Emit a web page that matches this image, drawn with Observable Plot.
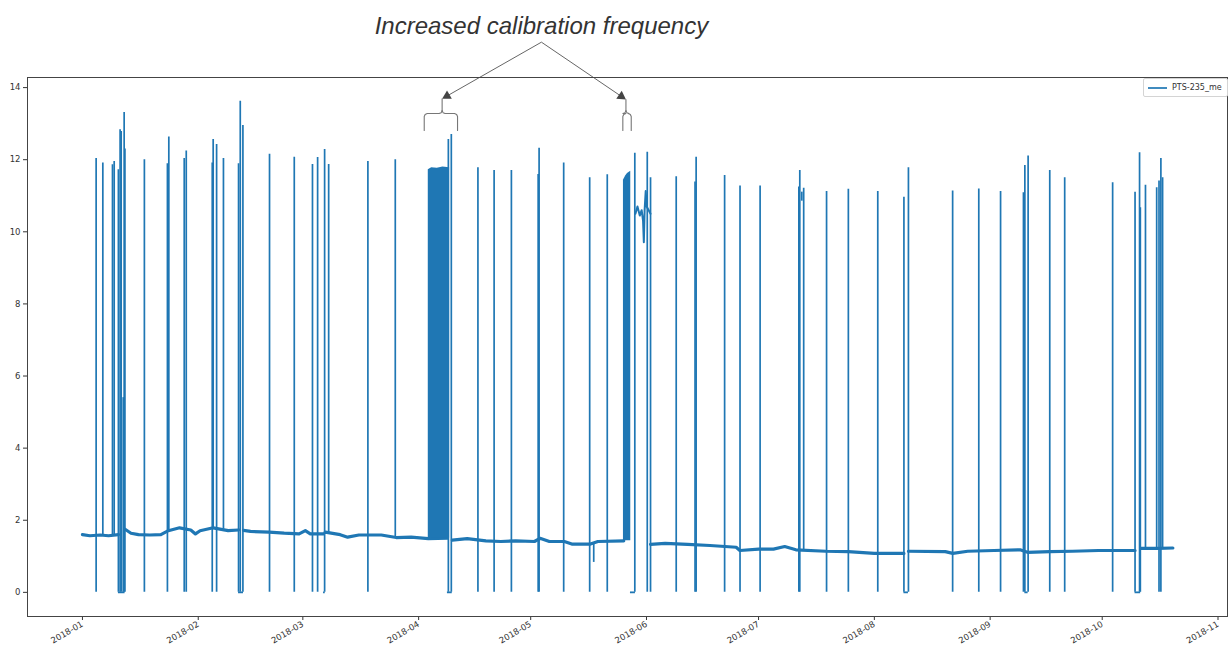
<!DOCTYPE html>
<html>
<head>
<meta charset="utf-8">
<script src="https://cdn.jsdelivr.net/npm/d3@7"></script>
<script src="https://cdn.jsdelivr.net/npm/@observablehq/plot@0.6"></script>
<style>
  body { margin: 0; background: #fff; }
  #chart { position: relative; width: 1229px; height: 646px; font-family: "DejaVu Sans", sans-serif; }
  #chart svg { display: block; }
  .legend {
    position: absolute; left: 1143px; top: 78px; height: 17px; padding: 0 5px 0 4px;
    border: 1px solid #d4d4d4; border-radius: 2px; background: #fff;
    display: flex; align-items: center; gap: 5px; font-size: 8px; color: #333;
  }
  .legend .swatch { width: 19px; height: 0; border-top: 2px solid #1f77b4; opacity: 0.85; }
</style>
</head>
<body>
<div id="chart"></div>
<script>
// Sensor PTS-235_me, 2018: baseline readings, calibration spikes, zero outages.
const seriesName = "PTS-235_me";

// x tick labels (month starts) and y ticks
const monthTicks = ["2018-01","2018-02","2018-03","2018-04","2018-05","2018-06",
                    "2018-07","2018-08","2018-09","2018-10","2018-11"];
const valueTicks = [0, 2, 4, 6, 8, 10, 12, 14];

// Slow-moving baseline level; null marks a break in the record
const baseline = [
  ["2018-01-01 00:00",1.60],["2018-01-03 00:00",1.57],["2018-01-05 18:00",1.59],["2018-01-08 00:00",1.57],
  ["2018-01-10 15:00",1.60],["2018-01-11 00:00",null],["2018-01-12 10:00",1.75],["2018-01-14 00:00",1.64],
  ["2018-01-16 00:00",1.60],["2018-01-19 00:00",1.59],["2018-01-22 00:00",1.60],["2018-01-24 00:00",1.71],
  ["2018-01-27 00:00",1.79],["2018-01-30 00:00",1.73],["2018-01-31 06:00",1.62],["2018-02-01 12:00",1.71],
  ["2018-02-05 00:00",1.79],["2018-02-09 00:00",1.71],["2018-02-11 19:00",1.73],["2018-02-12 00:00",null],
  ["2018-02-13 03:00",1.72],["2018-02-15 00:00",1.69],["2018-02-20 00:00",1.67],["2018-02-24 00:00",1.64],
  ["2018-02-28 00:00",1.62],["2018-03-01 16:00",1.71],["2018-03-03 00:00",1.62],["2018-03-06 13:00",1.62],
  ["2018-03-06 18:00",null],["2018-03-07 00:00",1.67],["2018-03-11 00:00",1.60],["2018-03-13 00:00",1.53],
  ["2018-03-16 00:00",1.59],["2018-03-22 00:00",1.59],["2018-03-26 00:00",1.52],["2018-03-30 00:00",1.53],
  ["2018-04-03 14:00",1.49],["2018-04-08 17:00",1.50],["2018-04-09 00:00",null],["2018-04-10 00:00",1.45],
  ["2018-04-14 00:00",1.49],["2018-04-19 00:00",1.43],["2018-04-23 00:00",1.41],["2018-04-27 00:00",1.43],
  ["2018-05-02 00:00",1.41],["2018-05-03 12:00",1.50],["2018-05-06 00:00",1.41],["2018-05-10 00:00",1.41],
  ["2018-05-12 00:00",1.34],["2018-05-17 00:00",1.34],["2018-05-19 00:00",1.41],["2018-05-25 22:00",1.43],
  ["2018-05-26 00:00",null],["2018-06-02 02:00",1.33],["2018-06-06 00:00",1.36],["2018-06-12 00:00",1.33],
  ["2018-06-18 00:00",1.30],["2018-06-25 00:00",1.25],["2018-06-26 00:00",1.16],["2018-07-01 00:00",1.20],
  ["2018-07-05 00:00",1.20],["2018-07-08 00:00",1.27],["2018-07-11 00:00",1.18],["2018-07-19 00:00",1.14],
  ["2018-07-25 00:00",1.13],["2018-08-01 00:00",1.08],["2018-08-08 22:00",1.08],["2018-08-09 00:00",null],
  ["2018-08-10 03:00",1.14],["2018-08-20 00:00",1.13],["2018-08-22 00:00",1.08],["2018-08-26 00:00",1.14],
  ["2018-09-02 00:00",1.16],["2018-09-09 00:00",1.18],["2018-09-11 00:00",1.11],["2018-09-17 00:00",1.13],
  ["2018-09-23 00:00",1.14],["2018-09-30 00:00",1.16],["2018-10-09 19:00",1.16],["2018-10-10 00:00",null],
  ["2018-10-11 07:00",1.22],["2018-10-16 00:00",1.22],["2018-10-19 22:00",1.23]
];

// Calibration spikes: time, peak reading, lowest reading of the excursion
const spikes = [
  ["2018-01-04 16:00",12.03,0],["2018-01-06 11:00",11.91,1.59],["2018-01-09 01:00",11.86,1.60],
  ["2018-01-09 12:00",11.95,1.60],["2018-01-10 15:00",11.72,0],["2018-01-11 02:00",12.83,0],
  ["2018-01-11 09:00",12.78,0],["2018-01-11 22:00",5.40,0],["2018-01-12 04:00",13.31,0],
  ["2018-01-12 09:00",12.30,0],["2018-01-17 14:00",12.00,0],["2018-01-23 18:00",11.89,0],
  ["2018-01-24 03:00",12.63,1.70],["2018-01-28 06:00",12.03,0],["2018-01-28 19:00",12.24,0],
  ["2018-02-04 18:00",11.91,0],["2018-02-05 00:00",12.56,1.75],["2018-02-05 22:00",12.42,0],
  ["2018-02-07 18:00",12.03,1.75],["2018-02-11 19:00",11.89,0],["2018-02-12 06:00",13.62,0],
  ["2018-02-12 23:00",12.95,0],["2018-02-20 02:00",12.15,0],["2018-02-26 17:00",12.07,0],
  ["2018-03-03 14:00",11.87,0],["2018-03-04 23:00",12.06,0],["2018-03-06 20:00",12.28,0],
  ["2018-03-07 22:00",11.87,1.65],["2018-03-18 10:00",11.95,0],["2018-03-25 18:00",12.00,1.55],
  ["2018-04-08 23:00",12.56,0],["2018-04-09 18:00",12.70,0],["2018-04-16 21:00",11.78,0],
  ["2018-04-21 05:00",11.70,0],["2018-04-25 20:00",11.70,0],["2018-05-03 00:00",11.59,0],
  ["2018-05-03 06:00",12.32,0],["2018-05-09 20:00",11.91,0],["2018-05-16 19:00",11.50,0],
  ["2018-05-17 21:00",1.34,0.83],["2018-05-21 12:00",11.58,0],["2018-05-28 21:00",12.18,0],
  ["2018-06-01 05:00",12.21,0],["2018-06-02 02:00",11.50,0],["2018-06-08 23:00",11.53,0],
  ["2018-06-14 00:00",11.38,0],["2018-06-14 07:00",12.07,0],["2018-06-21 22:00",11.56,0],
  ["2018-06-26 01:00",11.27,0],["2018-07-01 10:00",11.27,0],["2018-07-11 19:00",11.24,0],
  ["2018-07-12 01:00",11.70,0],["2018-07-12 14:00",11.10,10.85],["2018-07-13 02:00",11.21,1.18],
  ["2018-07-19 05:00",11.12,0],["2018-07-25 01:00",11.18,0],["2018-08-01 22:00",11.12,0],
  ["2018-08-08 22:00",10.96,0],["2018-08-10 03:00",11.78,0],["2018-08-21 23:00",11.13,0],
  ["2018-08-28 23:00",11.19,0],["2018-09-03 19:00",11.12,0],["2018-09-09 22:00",11.08,0],
  ["2018-09-10 07:00",11.84,0],["2018-09-11 04:00",12.10,0],["2018-09-16 23:00",11.70,0],
  ["2018-09-20 23:00",11.50,0],["2018-10-03 19:00",11.36,0],["2018-10-09 19:00",11.10,0],
  ["2018-10-11 00:00",12.19,0],["2018-10-11 05:00",10.67,0],["2018-10-12 14:00",11.29,1.22],
  ["2018-10-15 14:00",11.22,1.22],["2018-10-16 05:00",11.41,0],["2018-10-16 17:00",12.03,0],
  ["2018-10-17 04:00",11.50,1.22]
];

// Periods where the sensor sat at zero: start, end, level
const outages = [
  ["2018-01-10 15:00","2018-01-12 10:00",0],["2018-02-11 19:00","2018-02-13 03:00",0],
  ["2018-03-06 13:00","2018-03-07 00:00",0],["2018-04-08 17:00","2018-04-10 00:00",0],
  ["2018-05-27 17:00","2018-05-29 01:00",0],["2018-08-08 22:00","2018-08-10 03:00",0],
  ["2018-09-10 07:00","2018-09-11 04:00",0],["2018-10-09 19:00","2018-10-11 07:00",0]
];

// Back-to-back calibrations, drawn as filled bands: block, time, low, high
const calibrationBlocks = [
  ["A","2018-04-03 14:00",1.49,11.72],["A","2018-04-04 12:00",1.50,11.78],["A","2018-04-06 00:00",1.50,11.76],
  ["A","2018-04-07 12:00",1.50,11.80],["A","2018-04-09 07:00",1.50,11.78],
  ["B","2018-05-25 20:00",1.43,11.43],["B","2018-05-26 10:00",1.43,11.55],["B","2018-05-26 22:00",1.43,11.62],
  ["B","2018-05-27 19:00",1.43,11.68]
];

// Reading held near 10.5 after the second block
const holdReadings = [
  ["2018-05-29 01:00",10.50],["2018-05-29 14:00",10.70],["2018-05-30 05:00",10.45],["2018-05-30 17:00",10.60],
  ["2018-05-31 02:00",10.30],["2018-05-31 07:00",9.71],["2018-05-31 12:00",10.60],["2018-05-31 19:00",11.13],
  ["2018-06-01 01:00",10.70],["2018-06-01 14:00",10.60],["2018-06-02 02:00",10.50]
];

// Annotation: caption anchor, arrow tips, bracket spans (left, stem, right)
const noteText = ["2018-05-03 21:00", 15.50, "Increased calibration frequency"];
const noteFrom = ["2018-05-03 21:00", 15.26];
const noteTips = [["2018-04-07 07:00", 13.69], ["2018-05-26 12:00", 13.67]];
const noteBrackets = [
  ["2018-04-02 12:00","2018-04-07 07:00","2018-04-11 10:00"],
  ["2018-05-25 16:00","2018-05-26 12:00","2018-05-27 22:00"]
];
const bracketLevels = {bottom: 12.81, shoulder: 13.28};

// ---- layout ----
const W = 1229, H = 646, mL = 27, mR = 2, mT = 77, mB = 30;
const blue = "#1f77b4";
const parse = d3.utcParse("%Y-%m-%d %H:%M");
const xDomain = [parse("2017-12-17 07:00"), parse("2018-11-03 13:00")];
const yDomain = [-0.67, 14.28];

const xs = Plot.scale({x: {type: "utc", domain: xDomain, range: [mL, W - mR]}});
const ys = Plot.scale({y: {type: "linear", domain: yDomain, range: [H - mB, mT]}});

const base = baseline.map(([t, v]) => ({t: parse(t), v}));
const spk = spikes.map(([t, hi, lo]) => ({t: parse(t), hi, lo}));
const outs = outages.map(([a, b, v]) => ({a: parse(a), b: parse(b), v}));
const blocks = calibrationBlocks.map(([k, t, lo, hi]) => ({k, t: parse(t), lo, hi}));
const hold = holdReadings.map(([t, v]) => ({t: parse(t), v}));

// arrowheads: filled triangles whose apex sits on each tip
const triR = 3.6;
const apex = 2 * Math.sqrt((triR * triR * Math.PI) / (3 * Math.sqrt(3)));
const fx = xs.apply(parse(noteFrom[0])), fy = ys.apply(noteFrom[1]);
const heads = noteTips.map(([t, v]) => {
  const tx = xs.apply(parse(t)), ty = ys.apply(v);
  const dx = tx - fx, dy = ty - fy, len = Math.hypot(dx, dy);
  const cx = tx - apex * dx / len, cy = ty - apex * dy / len;
  return {x: xs.invert(cx), y: ys.invert(cy), rotate: Math.atan2(dy, dx) * 180 / Math.PI + 90};
});
const links = heads.map(h => ({x1: parse(noteFrom[0]), y1: noteFrom[1], x2: h.x, y2: h.y}));

// curly bracket outlines under each arrow
const bracketPts = [];
noteBrackets.forEach(([l, s, r], i) => {
  const L = xs.apply(parse(l)), C = xs.apply(parse(s)), R = xs.apply(parse(r));
  const yb = ys.apply(bracketLevels.bottom), yh = ys.apply(bracketLevels.shoulder);
  const yt = ys.apply(noteTips[i][1]);
  const halves = [
    [[L, yb], [L, yh + 3], [L + 0.9, yh + 0.9], [L + 3, yh], [C - 3, yh], [C - 0.9, yh - 0.9], [C, yh - 3], [C, yt]],
    [[R, yb], [R, yh + 3], [R - 0.9, yh + 0.9], [R - 3, yh], [C + 3, yh], [C + 0.9, yh - 0.9], [C, yh - 3]]
  ];
  halves.forEach((pts, j) => pts.forEach(([px, py]) =>
    bracketPts.push({z: `${i}-${j}`, x: xs.invert(px), y: ys.invert(py)})));
});

const plot = Plot.plot({
  width: W, height: H,
  marginLeft: mL, marginRight: mR, marginTop: mT, marginBottom: mB,
  style: {fontFamily: "DejaVu Sans, sans-serif", fontSize: "8.5px", color: "#333", background: "#fff", overflow: "visible"},
  x: {type: "utc", domain: xDomain},
  y: {domain: yDomain},
  marks: [
    Plot.ruleY(outs, {x1: "a", x2: "b", y: "v", stroke: blue, strokeWidth: 1.8}),
    Plot.line(base, {x: "t", y: "v", stroke: blue, strokeWidth: 3.2, strokeLinejoin: "round"}),
    Plot.areaY(blocks, {x: "t", y1: "lo", y2: "hi", z: "k", fill: blue, curve: "linear"}),
    Plot.line(hold, {x: "t", y: "v", stroke: blue, strokeWidth: 2}),
    Plot.ruleX(spk, {x: "t", y1: "lo", y2: "hi", stroke: blue, strokeWidth: 1.7}),

    Plot.text([noteText], {x: d => parse(d[0]), y: d => d[1], text: d => d[2],
      fontSize: 24, fontStyle: "italic", fontFamily: "Liberation Sans, Arial, sans-serif",
      fill: "#333", lineAnchor: "bottom"}),
    Plot.link(links, {x1: "x1", y1: "y1", x2: "x2", y2: "y2", stroke: "#666", strokeWidth: 1}),
    Plot.dot(heads, {x: "x", y: "y", symbol: "triangle", r: triR, rotate: "rotate", fill: "#444", stroke: "none"}),
    Plot.line(bracketPts, {x: "x", y: "y", z: "z", stroke: "#777", strokeWidth: 1.1, strokeLinejoin: "round"}),

    Plot.axisX({ticks: monthTicks.map(m => d3.utcParse("%Y-%m")(m)), tickFormat: d3.utcFormat("%Y-%m"),
      tickRotate: -30, tickSize: 4, tickPadding: 3, label: null, fontSize: 8.5}),
    Plot.axisY({ticks: valueTicks, tickSize: 4, tickPadding: 3, label: null, fontSize: 8.5}),
    Plot.frame({stroke: "#444", strokeWidth: 1})
  ]
});

const chart = document.getElementById("chart");
chart.appendChild(plot);
const legend = document.createElement("div");
legend.className = "legend";
legend.innerHTML = `<span class="swatch"></span><span></span>`;
legend.lastChild.textContent = seriesName;
chart.appendChild(legend);
</script>
</body>
</html>
